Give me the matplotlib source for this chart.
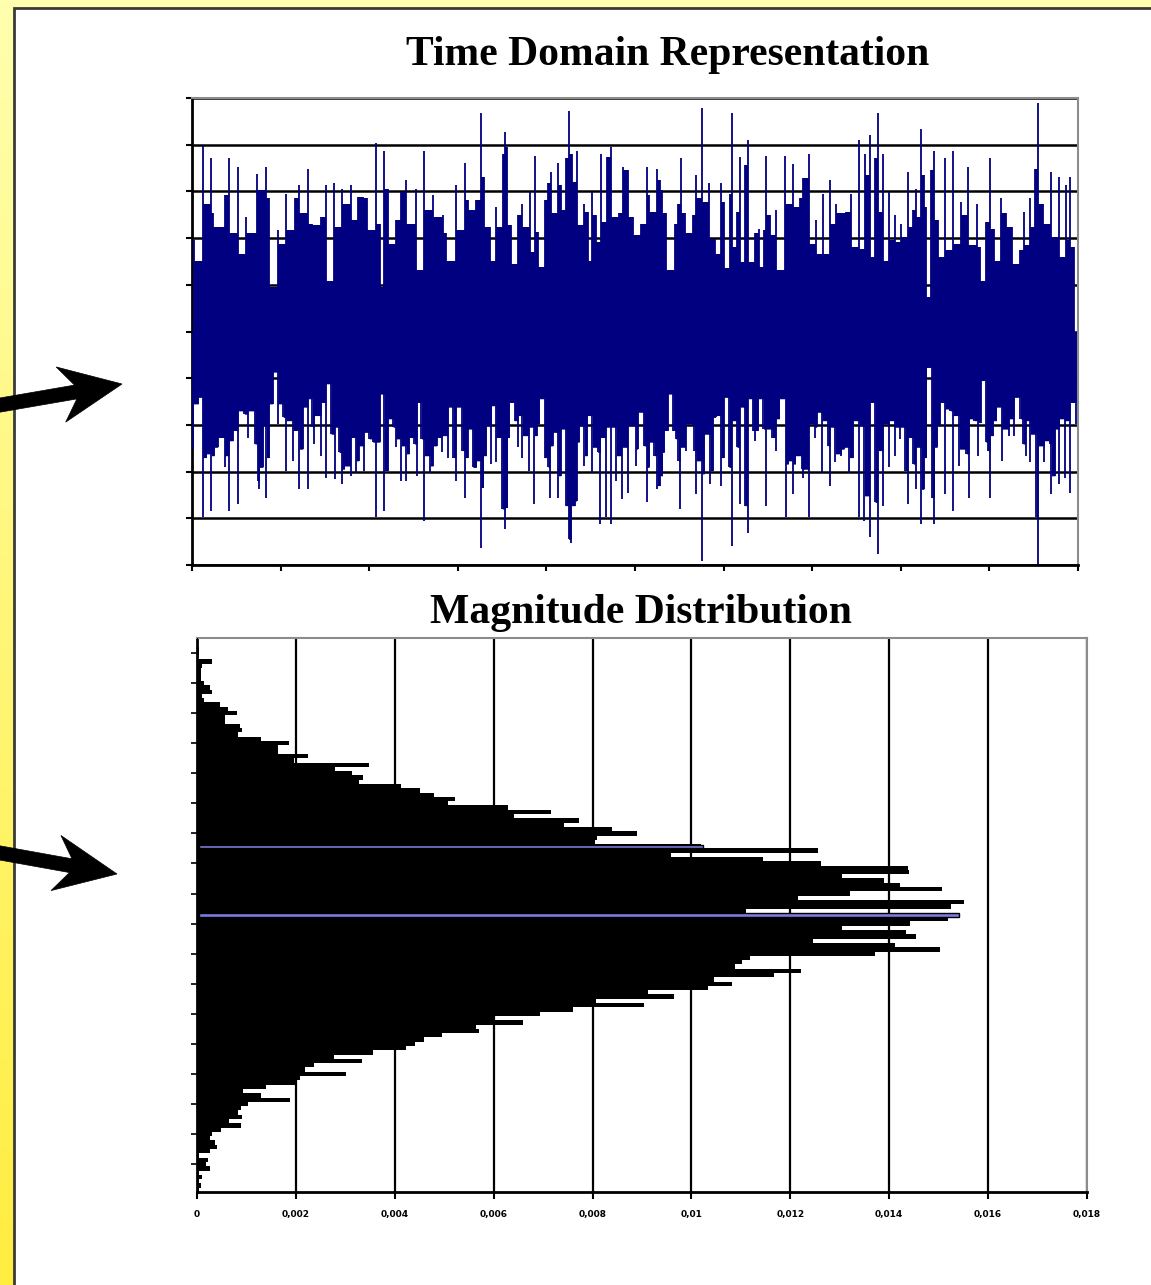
import numpy as np
import matplotlib.pyplot as plt
from matplotlib.patches import Rectangle, Polygon

# time-domain record: positive peaks (time, amplitude)
hi_t = [0.02, 0.07, 0.12, 0.17, 0.22, 0.24, 0.29, 0.37, 0.42, 0.46,
        0.52, 0.55, 0.61, 0.67, 0.73, 0.80, 0.84, 0.87, 0.93, 0.97,
        1.01, 1.06, 1.10, 1.16, 1.21, 1.25, 1.31, 1.35, 1.40, 1.46,
        1.51, 1.54, 1.60, 1.65, 1.69, 1.74, 1.79, 1.82, 1.87, 1.93,
        1.98, 2.02, 2.08, 2.12, 2.14, 2.17, 2.21, 2.25, 2.30, 2.36,
        2.42, 2.47, 2.53, 2.57, 2.62, 2.66, 2.72, 2.77, 2.83, 2.87,
        2.92, 2.98, 3.02, 3.08, 3.11, 3.17, 3.21, 3.26, 3.30, 3.36,
        3.40, 3.43, 3.47, 3.51, 3.53, 3.56, 3.60, 3.64, 3.68, 3.73,
        3.77, 3.81, 3.83, 3.87, 3.90, 3.94, 3.98, 4.02, 4.05, 4.09,
        4.13, 4.17, 4.20, 4.22, 4.25, 4.29, 4.32, 4.34, 4.37, 4.43,
        4.47, 4.49, 4.52, 4.56, 4.59, 4.62, 4.66, 4.68, 4.73, 4.77,
        4.82, 4.86, 4.92,
        4.98, 5.03, 5.07, 5.13, 5.16, 5.20, 5.25, 5.28, 5.31, 5.35,
        5.40, 5.45, 5.48, 5.52, 5.56, 5.61, 5.65, 5.69, 5.73, 5.76,
        5.80, 5.84, 5.90, 5.93, 5.97, 6.01, 6.03, 6.07, 6.09, 6.12,
        6.15, 6.18, 6.21, 6.24, 6.27, 6.31, 6.35, 6.40, 6.42, 6.46,
        6.48, 6.52, 6.55, 6.59, 6.65, 6.69, 6.73, 6.78, 6.82, 6.86,
        6.90, 6.96, 6.99, 7.04, 7.08, 7.12, 7.16, 7.20, 7.23, 7.27,
        7.31, 7.38, 7.44, 7.49, 7.53, 7.57, 7.60, 7.63, 7.65, 7.68,
        7.71, 7.74, 7.78, 7.80, 7.83, 7.87, 7.91, 7.93, 7.97, 8.00,
        8.04, 8.08, 8.10, 8.14, 8.17, 8.20, 8.23, 8.26, 8.29, 8.32,
        8.34, 8.38, 8.42, 8.47, 8.50, 8.53, 8.59, 8.62, 8.68, 8.72,
        8.76, 8.81, 8.86, 8.89, 8.92, 8.96, 9.01, 9.05, 9.10, 9.13,
        9.19, 9.26, 9.30, 9.35, 9.39, 9.43, 9.46, 9.49, 9.52, 9.55,
        9.60, 9.66, 9.70, 9.75, 9.79, 9.82, 9.86, 9.89, 9.91, 9.96]
hi_v = [1.95, 1.52, 3.97, 2.74, 3.71, 2.53, 2.24, 2.92, 3.71, 2.10,
        3.53, 1.67, 2.45, 2.10, 3.38, 3.03, 3.53, 2.85, 0.95, 2.17,
        1.88, 2.95, 2.17, 2.85, 3.13, 2.53, 3.47, 2.31, 2.27, 2.45,
        3.13, 1.09, 3.17, 2.24, 3.06, 2.74, 3.13, 2.38, 2.88, 2.88,
        2.85, 2.17, 4.04, 2.31, 0.95, 3.87, 3.06, 1.88, 2.38, 2.99,
        3.24, 2.31, 3.06, 1.31, 3.87, 2.60, 2.92, 2.45, 2.49, 2.10,
        1.52, 3.13, 2.17, 3.60, 2.81, 2.60, 2.81, 4.67, 3.31, 2.24,
        1.52, 2.67, 2.24, 3.81, 4.28, 3.96, 2.27, 1.45, 2.49, 2.74,
        2.24, 2.99, 1.70, 3.76, 2.13, 1.38, 2.81, 3.17, 3.42, 2.53,
        3.60, 3.13, 2.60, 3.71, 4.73, 3.81, 3.20, 3.87, 2.27, 2.74,
        2.56, 1.52, 2.99, 2.49, 1.92, 3.81, 2.35, 3.74, 3.96, 2.45,
        2.53, 3.53, 3.45,
        2.45, 2.06, 2.31, 3.53, 2.92, 2.56, 3.47, 3.24, 3.03, 2.53,
        1.31, 2.31, 2.74, 3.71, 2.53, 2.10, 2.49, 3.35, 2.85, 4.78,
        2.78, 3.17, 1.99, 1.67, 3.17, 2.78, 1.35, 2.95, 4.67, 1.81,
        2.56, 3.74, 1.49, 3.56, 4.10, 1.49, 2.10, 2.20, 1.38, 2.17,
        3.76, 2.49, 2.06, 2.60, 1.31, 3.76, 2.74, 3.58, 2.67, 2.85,
        3.29, 3.81, 1.88, 2.38, 1.67, 2.95, 1.67, 3.24, 2.31, 2.74,
        2.53, 2.56, 2.95, 1.81, 4.10, 1.77, 3.81, 3.35, 4.21, 1.59,
        3.71, 4.67, 2.56, 3.81, 1.52, 2.99, 1.95, 2.49, 1.92, 2.31,
        2.02, 3.42, 2.24, 2.60, 3.06, 2.45, 4.33, 3.35, 2.67, 0.74,
        3.45, 3.87, 2.38, 1.59, 3.71, 1.74, 3.87, 1.88, 2.78, 2.49,
        3.53, 1.85, 2.73, 1.81, 1.09, 2.35, 3.71, 2.20, 1.52, 2.85,
        2.53, 2.24, 1.45, 1.74, 2.56, 1.85, 2.85, 2.24, 3.47, 4.90,
        2.74, 2.31, 3.42, 2.02, 3.31, 1.59, 3.13, 1.95, 3.31, 1.81]

# negative peaks (time, amplitude)
lo_t = [0.01, 0.07, 0.10, 0.12, 0.16, 0.20, 0.22, 0.25, 0.29, 0.33,
        0.37, 0.40, 0.42, 0.46, 0.50, 0.52, 0.55, 0.59, 0.63, 0.67,
        0.71, 0.74, 0.76, 0.80, 0.82, 0.84, 0.87, 0.91, 0.94, 0.97,
        1.01, 1.03, 1.06, 1.10, 1.14, 1.18, 1.21, 1.25, 1.27, 1.31,
        1.33, 1.36, 1.38, 1.42, 1.46, 1.48, 1.51, 1.54, 1.57, 1.61,
        1.63, 1.66, 1.69, 1.72, 1.76, 1.79, 1.82, 1.85, 1.88, 1.91,
        1.94, 1.97, 2.00, 2.04, 2.08, 2.12, 2.14, 2.17, 2.21, 2.24,
        2.27, 2.30, 2.34, 2.36, 2.39, 2.42, 2.45, 2.48, 2.51, 2.54,
        2.56, 2.59, 2.62, 2.66, 2.69, 2.72, 2.76, 2.79, 2.82, 2.85,
        2.89, 2.92, 2.95, 2.98, 3.01, 3.05, 3.08, 3.11, 3.14, 3.17,
        3.21, 3.23, 3.26, 3.29, 3.32, 3.36, 3.38, 3.41, 3.43, 3.47,
        3.50, 3.53, 3.56, 3.58, 3.61, 3.64, 3.68, 3.70, 3.73, 3.77,
        3.80, 3.84, 3.86, 3.89, 3.92, 3.95, 3.98, 4.02, 4.04, 4.07,
        4.10, 4.13, 4.16, 4.19, 4.22, 4.25, 4.28, 4.32, 4.34, 4.37,
        4.40, 4.43, 4.46, 4.49, 4.52, 4.55, 4.58, 4.61, 4.64, 4.67,
        4.69, 4.73, 4.76, 4.79, 4.82, 4.85, 4.88, 4.92,
        4.98, 5.01, 5.03, 5.07, 5.10, 5.13, 5.16, 5.18, 5.22, 5.25,
        5.28, 5.31, 5.33, 5.37, 5.40, 5.43, 5.46, 5.49, 5.51, 5.54,
        5.57, 5.61, 5.65, 5.67, 5.69, 5.73, 5.76, 5.78, 5.81, 5.85,
        5.88, 5.91, 5.94, 5.97, 6.00, 6.03, 6.06, 6.09, 6.12, 6.15,
        6.18, 6.21, 6.24, 6.27, 6.30, 6.33, 6.36, 6.39, 6.42, 6.45,
        6.48, 6.52, 6.55, 6.59, 6.63, 6.66, 6.70, 6.73, 6.75, 6.78,
        6.81, 6.84, 6.88, 6.90, 6.93, 6.96, 6.99, 7.03, 7.05, 7.08,
        7.11, 7.15, 7.18, 7.20, 7.23, 7.26, 7.29, 7.33, 7.36, 7.38,
        7.42, 7.46, 7.50, 7.53, 7.56, 7.59, 7.63, 7.65, 7.68, 7.71,
        7.74, 7.78, 7.80, 7.83, 7.87, 7.90, 7.93, 7.96, 7.99, 8.02,
        8.05, 8.08, 8.11, 8.14, 8.17, 8.19, 8.23, 8.26, 8.29, 8.32,
        8.35, 8.38, 8.41, 8.44, 8.47, 8.50, 8.53, 8.56, 8.59, 8.62,
        8.66, 8.70, 8.74, 8.77, 8.80, 8.83, 8.87, 8.90, 8.93, 8.96,
        8.98, 9.01, 9.04, 9.08, 9.10, 9.14, 9.18, 9.22, 9.25, 9.28,
        9.31, 9.35, 9.38, 9.41, 9.43, 9.46, 9.49, 9.53, 9.55, 9.58,
        9.62, 9.65, 9.68, 9.70, 9.74, 9.76, 9.79, 9.82, 9.85, 9.87,
        9.91, 9.94, 9.98]
lo_v = [-2.52, -1.55, -1.41, -3.98, -2.70, -2.62, -3.84, -2.66, -2.48, -2.27,
        -2.91, -2.66, -3.84, -2.34, -2.12, -3.70, -1.70, -1.77, -2.27, -1.70,
        -2.41, -3.20, -3.38, -2.91, -2.02, -3.56, -2.70, -1.55, -0.87, -1.98,
        -1.55, -1.84, -2.98, -1.91, -2.77, -2.12, -3.38, -2.52, -1.62, -3.38,
        -1.44, -2.05, -2.41, -1.80, -2.66, -1.52, -3.13, -1.12, -2.20, -3.16,
        -2.05, -2.59, -3.27, -2.95, -2.88, -3.09, -2.27, -3.02, -2.77, -2.45,
        -2.98, -2.16, -2.30, -2.37, -3.98, -2.37, -1.34, -3.84, -2.98, -1.87,
        -2.05, -2.48, -2.30, -3.20, -2.45, -3.20, -2.62, -2.27, -2.41, -3.09,
        -1.52, -2.30, -4.06, -2.66, -3.02, -2.88, -2.45, -2.27, -2.59, -2.23,
        -2.70, -1.62, -2.70, -3.20, -1.62, -2.55, -3.56, -2.70, -2.09, -2.91,
        -2.91, -2.77, -4.63, -3.34, -2.66, -2.02, -2.84, -1.59, -2.80, -2.27,
        -3.80, -4.23, -3.77, -2.27, -1.52, -1.91, -2.48, -1.80, -2.70, -2.23,
        -2.98, -2.05, -3.70, -2.23, -1.98, -1.44, -2.70, -2.91, -3.56, -2.45,
        -2.16, -3.56, -3.09, -2.09, -3.73, -4.45, -4.52, -3.73, -3.63, -2.37,
        -2.02, -2.88, -2.66, -1.80, -3.02, -2.48, -2.59, -4.13, -2.27, -3.98,
        -2.05, -4.13, -2.05, -3.20, -2.66, -3.59, -2.48, -3.45,
        -2.02, -2.88, -2.52, -1.73, -2.45, -3.66, -2.91, -2.37, -2.66, -3.38,
        -3.30, -3.09, -2.59, -2.12, -1.34, -2.12, -2.30, -2.77, -3.80, -2.48,
        -2.55, -1.98, -2.02, -2.55, -3.48, -2.77, -4.91, -3.05, -2.20, -3.27,
        -2.98, -1.84, -1.80, -3.30, -2.70, -1.41, -2.91, -4.59, -1.91, -2.48,
        -3.70, -1.62, -3.73, -4.31, -1.44, -2.12, -2.34, -2.12, -1.44, -2.09,
        -3.73, -2.09, -2.27, -2.55, -1.87, -1.44, -3.98, -2.84, -2.77, -3.48,
        -2.84, -2.66, -2.95, -3.13, -2.95, -3.98, -1.98, -2.27, -2.05, -1.73,
        -3.02, -1.91, -2.45, -3.30, -2.05, -2.80, -2.62, -2.66, -2.52, -2.48,
        -3.02, -2.70, -1.91, -3.98, -2.02, -4.06, -3.52, -4.41, -1.52, -3.66,
        -4.77, -2.55, -3.73, -1.98, -2.91, -1.91, -2.66, -2.05, -2.30, -2.05,
        -2.98, -3.70, -2.27, -2.84, -3.38, -2.48, -4.13, -3.38, -2.70, -0.77,
        -3.56, -4.13, -2.48, -2.02, -1.52, -3.48, -1.66, -1.70, -3.84, -1.80,
        -2.88, -2.52, -2.62, -3.56, -1.87, -1.91, -2.66, -1.95, -1.05, -2.37,
        -2.55, -3.56, -2.23, -1.91, -1.62, -2.77, -2.09, -2.23, -1.87, -2.23,
        -1.41, -1.87, -2.41, -2.66, -1.91, -2.80, -2.20, -3.98, -4.98, -2.45,
        -2.80, -2.34, -2.41, -3.48, -3.09, -2.09, -3.27, -1.87, -3.13, -1.91,
        -3.45, -1.52, -1.98]
t_end = 10.0

# magnitude distribution: relative frequency per amplitude bin (x 1e-3), top bin first
dist = np.array([
    0.02, 0.02, 0.05, 0.05, 0.02, 0.31, 0.10, 0.08, 0.08, 0.08,
    0.15, 0.26, 0.31, 0.10, 0.15, 0.46, 0.62, 0.80, 0.57, 0.57,
    0.86, 0.91, 0.82, 1.29, 1.86, 1.63, 1.63, 2.25, 1.96, 3.48,
    2.80, 3.14, 3.35, 3.28, 4.12, 4.52, 4.79, 5.21, 5.07, 6.29,
    7.16, 6.41, 7.73, 7.42, 8.40, 8.89, 8.09, 8.04, 10.19, 12.56,
    9.59, 11.44, 12.63, 14.38, 14.41, 13.04, 13.90, 14.21, 15.07, 13.20,
    12.16, 15.52, 15.24, 11.11, 15.38, 15.19, 14.43, 13.04, 14.33, 14.54,
    12.45, 14.12, 15.03, 13.71, 11.19, 11.03, 10.88, 12.22, 11.67, 10.46,
    10.82, 10.33, 9.12, 9.64, 8.06, 9.05, 7.61, 6.93, 5.98, 6.60,
    5.65, 5.70, 4.95, 4.59, 4.41, 4.23, 3.56, 2.78, 3.33, 2.37,
    2.19, 3.01, 2.08, 2.01, 1.39, 0.93, 1.29, 1.89, 1.03, 0.88,
    0.82, 0.91, 0.64, 0.88, 0.49, 0.31, 0.26, 0.36, 0.41, 0.26,
    0.05, 0.23, 0.19, 0.26, 0.05, 0.10, 0.05, 0.08, 0.05]) * 1e-3
marked_bins = [48, 64]
dist_ticks = [0, 0.002, 0.004, 0.006, 0.008, 0.01, 0.012, 0.014, 0.016, 0.018]
dist_labels = ['0', '0,002', '0,004', '0,006', '0,008', '0,01', '0,012', '0,014', '0,016', '0,018']

W, H = 1151, 1285
fig = plt.figure(figsize=(W / 100, H / 100), dpi=100)


def fx(x):
    return x / W


def fy(y):
    return 1 - y / H


# yellow page behind the white sheet
bg = fig.add_axes([0, 0, 1, 1], zorder=-10)
gy = np.linspace(0, 1, 256)[:, None]
top = np.array([1.0, 1.0, 0.68])
bot = np.array([1.0, 0.93, 0.25])
grad = top * (1 - gy[..., None]) + bot * gy[..., None]
grad = np.repeat(grad, 64, axis=1)
bg.imshow(grad, aspect='auto', extent=[0, 1, 0, 1])
bg.set_axis_off()

sheet = Rectangle((fx(14), -0.01), 1.0, fy(8) + 0.01, transform=fig.transFigure,
                  facecolor='white', edgecolor='#3a3a3a', lw=2.0, zorder=-5)
fig.add_artist(sheet)

navy = '#000080'


def draw_trace(ax, t, v, upward):
    """Each peak is a thin stroke from zero; the space between two strokes
    is filled up to the smaller of the pair, leaving thin gaps at the peaks."""
    t = np.asarray(t)
    v = np.asarray(v)
    pair = np.minimum(v[:-1], v[1:]) if upward else np.maximum(v[:-1], v[1:])
    pair = np.append(pair, pair[-1])
    ax.fill_between(t, 0, pair, step='post', color=navy, lw=0, zorder=3)
    ax.vlines(t, 0, v, color=navy, lw=1.3, zorder=3)


# --- time domain ---
ax1 = fig.add_axes([fx(192), fy(565), fx(1078) - fx(192), fy(98) - fy(565)])
draw_trace(ax1, hi_t, hi_v, True)
draw_trace(ax1, lo_t, lo_v, False)
ax1.set_xlim(0, t_end)
ax1.set_ylim(-5, 5)
ax1.set_xticks(np.arange(0, 11))
ax1.set_yticks(np.arange(-5, 6))
ax1.yaxis.grid(True, color='black', lw=1.8)
ax1.set_axisbelow(True)
ax1.tick_params(direction='out', length=4, width=1.5, color='black',
                labelleft=False, labelbottom=False)

# --- magnitude distribution ---
ax2 = fig.add_axes([fx(197), fy(1192), fx(1087) - fx(197), fy(638) - fy(1192)])
bins = np.arange(len(dist))
ax2.barh(bins, dist, height=1.0, color='black', lw=0, zorder=3)
ax2.barh(marked_bins, dist[marked_bins], height=0.75, left=0.00004,
         color='#7c7ce0', edgecolor='black', lw=1.0, zorder=4)
ax2.set_ylim(len(dist) - 0.5, -0.5)
ax2.set_xlim(0, 0.018)
ax2.set_xticks(dist_ticks)
ax2.set_xticklabels(dist_labels, fontsize=6.5, fontweight='bold', family='DejaVu Sans')
ax2.set_yticks(bins[3::7])
ax2.xaxis.grid(True, color='black', lw=1.6)
ax2.set_axisbelow(True)
ax2.tick_params(axis='x', direction='out', length=5, width=1.5, pad=8)
ax2.tick_params(axis='y', direction='out', length=4, width=1.2, labelleft=False)

for ax in (ax1, ax2):
    for s in ('left', 'bottom'):
        ax.spines[s].set_color('black')
        ax.spines[s].set_linewidth(2)
    for s in ('top', 'right'):
        ax.spines[s].set_color('#8c8c8c')
        ax.spines[s].set_linewidth(1.5)

title_kw = dict(ha='center', va='center', family='Liberation Serif',
                fontweight='bold', fontsize=30)
fig.text(fx(668), fy(55), 'Time Domain Representation', **title_kw)
fig.text(fx(641), fy(613), 'Magnitude Distribution', **title_kw)

# block arrows with swept-back barbs, tip at the local origin, in pixels
arrow_shape = np.array([(-160, 7), (-47, 7), (-62, 28), (0, 0),
                        (-62, -28), (-47, -7), (-160, -7)], dtype=float)
for tip, angle in [((122, 384), 9.8), ((117, 874), -10.2)]:
    a = np.radians(angle)
    rot = np.array([[np.cos(a), -np.sin(a)], [np.sin(a), np.cos(a)]])
    pts = arrow_shape @ rot.T
    pts[:, 0] += tip[0]
    pts[:, 1] += H - tip[1]
    fig.add_artist(Polygon(pts / 100, closed=True, transform=fig.dpi_scale_trans,
                           facecolor='black', edgecolor='black', lw=0.5))

fig.savefig('out.png', dpi=100)
